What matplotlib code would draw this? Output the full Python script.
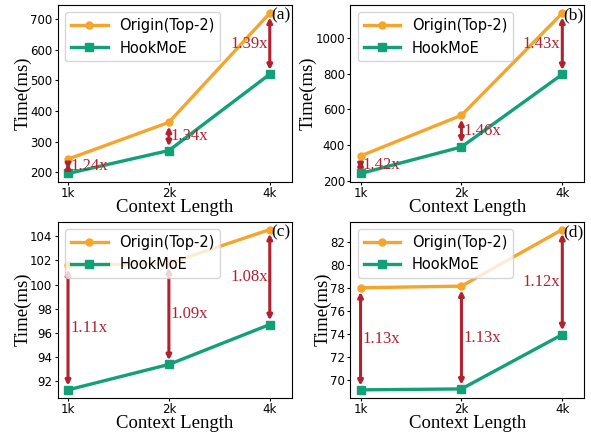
import matplotlib
matplotlib.use("Agg")
import matplotlib.pyplot as plt
import numpy as np

# context lengths shared by all four panels
contexts = ["1k", "2k", "4k"]
panel_tags = ["(a)", "(b)", "(c)", "(d)"]

# latency (ms)
origin_a = [243, 363, 719]
hook_a = [196, 271, 520]
origin_b = [340, 567, 1137]
hook_b = [242, 390, 796]
origin_c = [101.6, 101.75, 104.55]
hook_c = [91.3, 93.4, 96.7]
origin_d = [78.0, 78.14, 83.05]
hook_d = [69.14, 69.22, 73.94]

speedup_a = ["1.24x", "1.34x", "1.39x"]
speedup_b = ["1.42x", "1.46x", "1.43x"]
speedup_c = ["1.11x", "1.09x", "1.08x"]
speedup_d = ["1.13x", "1.13x", "1.12x"]

ORANGE = "#F5A42C"
GREEN = "#12A077"
RED = "#B2222E"
SERIF = "Liberation Serif"


def draw_panel(ax, origin, hook, labels, tag):
    x = np.arange(len(contexts))
    ax.plot(x, origin, color=ORANGE, lw=2.4, marker="o", ms=5,
            label="Origin(Top-2)", zorder=2)
    ax.plot(x, hook, color=GREEN, lw=2.4, marker="s", ms=5.5,
            label="HookMoE", zorder=2)
    for i, (o, h, lab) in enumerate(zip(origin, hook, labels)):
        ax.annotate("", xy=(x[i], h), xytext=(x[i], o),
                    arrowprops=dict(arrowstyle="<|-|>", color=RED, lw=2.2,
                                    mutation_scale=7, shrinkA=3, shrinkB=3),
                    zorder=3)
        mid = (o + h) / 2
        if i == len(x) - 1:
            ax.text(x[i] - 0.02, mid, lab, ha="right", va="center",
                    color=RED, fontsize=12, family=SERIF)
        else:
            ax.text(x[i] + 0.02, mid, lab, ha="left", va="center",
                    color=RED, fontsize=12, family=SERIF)
    ax.text(0.995, 0.985, tag, transform=ax.transAxes, ha="right", va="top",
            fontsize=12.5, family=SERIF)
    ax.set_xticks(x)
    ax.set_xticklabels(contexts)
    ax.set_xlim(-0.1, 2.22)
    ax.tick_params(labelsize=8.5, length=2.5, pad=1.5)
    ax.set_xlabel("Context Length", fontsize=13.5, family=SERIF, labelpad=-1)
    ax.set_ylabel("Time(ms)", fontsize=13.5, family=SERIF, labelpad=-1)
    ax.legend(loc="upper left", fontsize=10.5, handlelength=2.5,
              framealpha=0.8)


fig, axes = plt.subplots(2, 2, figsize=(5.91, 4.32), dpi=100)
fig.subplots_adjust(left=0.098, right=0.989, top=0.988, bottom=0.079,
                    wspace=0.25, hspace=0.227)

draw_panel(axes[0, 0], origin_a, hook_a, speedup_a, panel_tags[0])
draw_panel(axes[0, 1], origin_b, hook_b, speedup_b, panel_tags[1])
draw_panel(axes[1, 0], origin_c, hook_c, speedup_c, panel_tags[2])
draw_panel(axes[1, 1], origin_d, hook_d, speedup_d, panel_tags[3])

axes[0, 0].set_yticks([200, 300, 400, 500, 600, 700])
axes[0, 1].set_yticks([200, 400, 600, 800, 1000])
axes[1, 0].set_yticks([92, 94, 96, 98, 100, 102, 104])
axes[1, 1].set_yticks([70, 72, 74, 76, 78, 80, 82])

fig.savefig("out.png", dpi=100)
